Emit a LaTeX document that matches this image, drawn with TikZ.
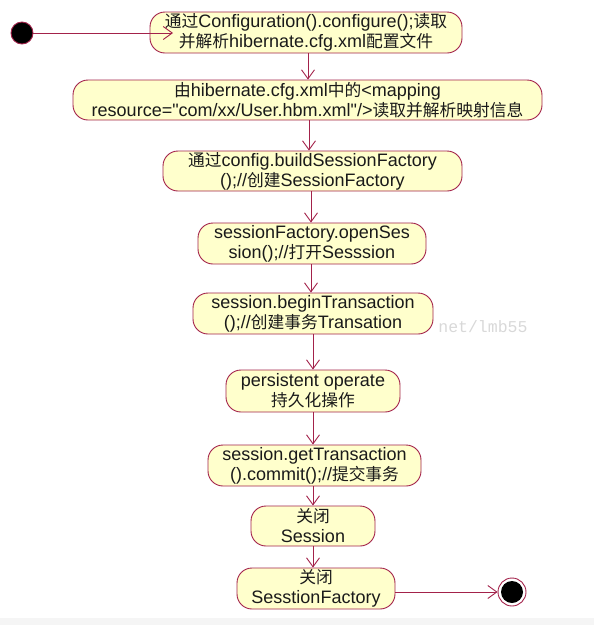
\documentclass[tikz,border=0pt]{standalone}
\usepackage{fontspec}
\setmainfont{Liberation Sans}[Ligatures=NoCommon]
\newfontfamily\cjk{Noto Sans CJK SC}[Scale=0.93]
\newfontfamily\wmfont{Liberation Mono}
\newcommand{\zh}[1]{{\cjk #1}}
\usetikzlibrary{arrows.meta}
\definecolor{edgered}{HTML}{A3224A}
\definecolor{actfill}{HTML}{FFFFCC}
\definecolor{txt}{HTML}{1A1A1A}
\tikzset{
  act/.style={draw=edgered, line width=0.9pt, fill=actfill, rounded corners=15pt,
    inner sep=0pt, align=center, text=txt,
    font=\fontsize{18}{20}\selectfont},
  arr/.style={draw=edgered, line width=0.9pt,
    -{Straight Barb[length=9pt,width=13pt,line width=0.9pt]}}
}
\begin{document}
\begin{tikzpicture}[x=1pt,y=-1pt]
\useasboundingbox (0,0) rectangle (594,625);
\fill[white] (0,0) rectangle (594,625);
\fill[gray!8] (0,618) rectangle (594,625);

\node[font=\wmfont\fontsize{16.5}{18}\selectfont, text=gray, opacity=0.3, anchor=east] (wm) at (531,327) {net/lmb55};

\node[act, minimum width=312pt, minimum height=41pt] (n1) at (306,32.5)
  {\zh{通过}Configuration().configure();\zh{读取}\\\zh{并解析}hibernate.cfg.xml\zh{配置文件}};
\node[act, minimum width=469pt, minimum height=40pt] (n2) at (307.5,100)
  {\zh{由}hibernate.cfg.xml\zh{中的}<mapping\\resource=\textquotedbl com/xx/User.hbm.xml\textquotedbl/>\zh{读取并解析映射信息}};
\node[act, minimum width=299pt, minimum height=40pt] (n3) at (312.5,171)
  {\zh{通过}config.buildSessionFactory\\();//\zh{创建}SessionFactory};
\node[act, minimum width=228pt, minimum height=41pt] (n4) at (312,243.5)
  {sessionFactory.openSes\\sion();//\zh{打开}Sesssion};
\node[act, minimum width=240pt, minimum height=41pt] (n5) at (313,313.5)
  {session.beginTransaction\\();//\zh{创建事务}Transation};
\node[act, minimum width=174pt, minimum height=42pt] (n6) at (313,391)
  {persistent operate\\\zh{持久化操作}};
\node[act, minimum width=213pt, minimum height=41pt] (n7) at (314.5,465.5)
  {session.getTransaction\\().commit();//\zh{提交事务}};
\node[act, minimum width=124pt, minimum height=40pt] (n8) at (313,526)
  {\zh{关闭}\\Session};
\node[act, minimum width=158pt, minimum height=41pt] (n9) at (316,588.5)
  {\zh{关闭}\\SesstionFactory};

\node[circle, fill=black, draw=edgered, line width=0.9pt, minimum size=22pt, inner sep=0pt] (s) at (22,33) {};
\node[circle, draw=edgered, line width=0.9pt, fill=white, minimum size=28pt, inner sep=0pt] (e) at (512,592) {};
\node[circle, fill=black, minimum size=22pt, inner sep=0pt] (ei) at (e) {};

\coordinate (t1) at (173,33);
\coordinate (a1) at (308,0);
\coordinate (a2) at (309,0);
\coordinate (a3) at (311,0);
\coordinate (a4) at (311,0);
\coordinate (a5) at (313,0);
\coordinate (a6) at (313,0);
\coordinate (a7) at (313,0);
\coordinate (a8) at (313,0);

\draw[arr] (s) -- (t1);
\draw[arr] (n1.south -| a1) -- (n2.north -| a1);
\draw[arr] (n2.south -| a2) -- (n3.north -| a2);
\draw[arr] (n3.south -| a3) -- (n4.north -| a3);
\draw[arr] (n4.south -| a4) -- (n5.north -| a4);
\draw[arr] (n5.south -| a5) -- (n6.north -| a5);
\draw[arr] (n6.south -| a6) -- (n7.north -| a6);
\draw[arr] (n7.south -| a7) -- (n8.north -| a7);
\draw[arr] (n8.south -| a8) -- (n9.north -| a8);
\draw[arr] (n9.east |- e) -- (e.west);
\end{tikzpicture}
\end{document}
